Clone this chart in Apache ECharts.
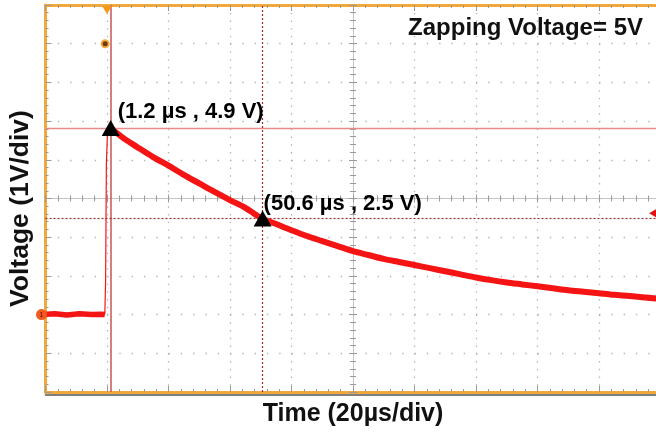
<!DOCTYPE html>
<html>
<head>
<meta charset="utf-8">
<script src="https://cdn.jsdelivr.net/npm/echarts@6/dist/echarts.min.js"></script>
<style>
html,body{margin:0;padding:0;background:#fff;}
#chart{width:656px;height:432px;}
</style>
</head>
<body>
<div id="chart"></div>
<script>
// ---- data ----
const baselineTime = [-21, -17, -13, -9, -5, -2, -0.7];
const baselineVolt = [0.0, 0.02, -0.01, 0.02, 0.0, 0.01, 0.0];

const riseTime = [-0.7, -0.45, -0.2, 0.2, 1.2];
const riseVolt = [0.0, 0.9, 3.9, 4.8, 4.82];

const decayTime = [1.2, 5, 10, 15, 20, 25, 30, 35, 40, 45, 50, 55, 60, 65, 70, 75, 80, 85, 90, 95, 100,
  105, 110, 115, 120, 125, 130, 135, 140, 145, 150, 155, 160, 165, 170, 175, 180];
const decayVolt = [4.82, 4.58, 4.32, 4.07, 3.85, 3.61, 3.39, 3.17, 2.96, 2.76, 2.50, 2.34, 2.18, 2.03, 1.90, 1.77,
  1.64, 1.54, 1.44, 1.36, 1.28, 1.20, 1.12, 1.04, 0.96, 0.89, 0.83, 0.78, 0.73, 0.68, 0.63, 0.59, 0.55,
  0.51, 0.48, 0.44, 0.41];

const cursorTime = [1.2, 50.6];
const cursorVolt = [4.82, 2.48];
const cursorLabels = ['(1.2 µs , 4.9 V)', '(50.6 µs , 2.5 V)'];

const triggerTime = 0;      // trigger position (top marker)
const triggerLevel = [-0.6, 7];
const channelGround = [-21.3, 0];
const refArrow = [176.3, 2.62];

const xMin = -20, xMax = 180, xStep = 20;
const yMin = -2, yMax = 8, yStep = 1;

const titleText = 'Zapping Voltage= 5V';
const xName = 'Time (20µs/div)';
const yName = 'Voltage (1V/div)';

// ---- styles ----
const ORANGE = '#f2a93b';
const GRIDDOT = '#b4b4b4';
const TICK = '#9a9a9a';
const TRACE = '#f41414';
const FONT = '"Liberation Sans", Arial, sans-serif';

const zip = (a, b) => a.map((v, i) => [v, b[i]]);

const chart = echarts.init(document.getElementById('chart'), null, {renderer: 'canvas'});

function line(color, width) {
  return {show: true, onZero: false, lineStyle: {color: color, width: width}};
}
function baseX(extra) {
  return Object.assign({
    type: 'value', min: xMin, max: xMax, interval: xStep,
    axisLabel: {show: false},
    splitLine: {show: false},
    axisLine: {show: false, onZero: false},
    axisTick: {show: false},
    minorTick: {show: false}
  }, extra);
}
function baseY(extra) {
  return Object.assign({
    type: 'value', min: yMin, max: yMax, interval: yStep,
    axisLabel: {show: false},
    splitLine: {show: false},
    axisLine: {show: false, onZero: false},
    axisTick: {show: false},
    minorTick: {show: false}
  }, extra);
}

const option = {
  animation: false,
  backgroundColor: '#fff',
  title: {
    text: titleText, right: 8, top: 11,
    textStyle: {fontFamily: FONT, fontWeight: 'bold', fontSize: 24, color: '#111'}
  },
  grid: {left: 45.5, top: 5, right: -4.5, bottom: 40, containLabel: false, outerBoundsMode: 'none'},
  xAxis: [
    baseX({
      position: 'bottom',
      name: xName, nameLocation: 'middle', nameGap: 10,
      nameTextStyle: {fontFamily: FONT, fontWeight: 'bold', fontSize: 25, color: '#111', verticalAlign: 'top'},
      axisLine: line(ORANGE, 3),
      axisTick: {show: true, inside: true, length: 6, lineStyle: {color: TICK}},
      minorTick: {show: true, splitNumber: 5, length: 3, lineStyle: {color: TICK}},
      splitLine: {show: true, lineStyle: {color: GRIDDOT, width: 1.3, type: [1.4, 6.34]}}
    }),
    baseX({
      position: 'top',
      axisLine: line(ORANGE, 3),
      axisTick: {show: true, inside: true, length: 6, lineStyle: {color: TICK}},
      minorTick: {show: true, splitNumber: 5, length: 3, lineStyle: {color: TICK}}
    }),
    baseX({
      position: 'bottom', offset: -193.5,
      axisLine: line('#c4c4c4', 1),
      axisTick: {show: true, inside: true, length: 4, lineStyle: {color: TICK}},
      minorTick: {show: true, splitNumber: 5, length: 3, lineStyle: {color: TICK}}
    }),
    baseX({
      position: 'bottom', offset: -193.5,
      axisTick: {show: true, inside: false, length: 4, lineStyle: {color: TICK}},
      minorTick: {show: true, splitNumber: 5, length: 3, lineStyle: {color: TICK}}
    }),
    baseX({
      position: 'bottom', offset: 2.5,
      axisLine: line('#555', 1.5)
    })
  ],
  yAxis: [
    baseY({
      position: 'left',
      name: yName, nameLocation: 'middle', nameGap: 11, nameRotate: 90,
      nameTextStyle: {fontFamily: FONT, fontWeight: 'bold', fontSize: 26.5, color: '#111',
        verticalAlign: 'bottom', padding: [0, 20, 0, 0]},
      axisLine: line(ORANGE, 3),
      axisTick: {show: true, inside: true, length: 6, lineStyle: {color: TICK}},
      minorTick: {show: true, splitNumber: 5, length: 3, lineStyle: {color: TICK}},
      splitLine: {show: true, lineStyle: {color: GRIDDOT, width: 1.3, type: [1.4, 10.9]}}
    }),
    baseY({
      position: 'left', offset: -307.5,
      axisLine: line('#c4c4c4', 1),
      axisTick: {show: true, inside: true, length: 4, lineStyle: {color: TICK}},
      minorTick: {show: true, splitNumber: 5, length: 3, lineStyle: {color: TICK}}
    }),
    baseY({
      position: 'left', offset: -307.5,
      axisTick: {show: true, inside: false, length: 4, lineStyle: {color: TICK}},
      minorTick: {show: true, splitNumber: 5, length: 3, lineStyle: {color: TICK}}
    })
  ],
  series: [
    {
      type: 'line', name: 'cursors', data: [], silent: true,
      markLine: {
        symbol: 'none', silent: true, label: {show: false},
        data: [
          {xAxis: cursorTime[0], lineStyle: {color: '#c86060', width: 1.6, type: 'solid'}},
          {yAxis: cursorVolt[0], lineStyle: {color: '#e88a8a', width: 1.4, type: 'solid'}},
          {xAxis: cursorTime[1], lineStyle: {color: '#9c2a2a', width: 1.2, type: [2, 2]}},
          {yAxis: cursorVolt[1], lineStyle: {color: '#9c2a2a', width: 1.2, type: [2, 2]}}
        ]
      }
    },
    {
      type: 'line', name: 'baseline', data: zip(baselineTime, baselineVolt),
      showSymbol: false, clip: false,
      lineStyle: {color: TRACE, width: 5.5}
    },
    {
      type: 'line', name: 'rise', data: zip(riseTime, riseVolt),
      showSymbol: false,
      lineStyle: {color: TRACE, width: 1.2}
    },
    {
      type: 'line', name: 'decay', data: zip(decayTime, decayVolt),
      showSymbol: false, smooth: 0.3, clip: false,
      lineStyle: {color: TRACE, width: 6}
    },
    {
      type: 'scatter', name: 'cursorMarks',
      data: zip(cursorTime, cursorVolt).map((p, i) => ({
        value: p,
        label: {offset: i === 0 ? [6, -16] : [0, -15]}
      })),
      symbol: 'triangle', symbolSize: [18, 16],
      itemStyle: {color: '#000', opacity: 1},
      z: 10,
      label: {
        show: true, position: 'right', distance: -8,
        formatter: (p) => cursorLabels[p.dataIndex],
        fontFamily: FONT, fontWeight: 'bold', fontSize: 22, color: '#000', opacity: 1
      }
    },
    {
      type: 'scatter', name: 'trigger', xAxisIndex: 1,
      data: [[triggerTime, yMax]],
      symbol: 'triangle', symbolRotate: 180, symbolSize: [10, 8], symbolOffset: [0, 5],
      itemStyle: {color: '#f39a1a', opacity: 1}, clip: false, z: 12
    },
    {
      type: 'scatter', name: 'trigLevel',
      data: [triggerLevel],
      symbol: 'circle', symbolSize: 7,
      itemStyle: {color: '#6b3a10', borderColor: ORANGE, borderWidth: 2, opacity: 1}, z: 12
    },
    {
      type: 'scatter', name: 'ground',
      data: [channelGround],
      symbol: 'circle', symbolSize: 11, clip: false,
      itemStyle: {color: '#f05a1e', opacity: 1}, z: 12,
      label: {show: true, position: 'inside', formatter: '1', fontSize: 7, color: '#600', fontFamily: FONT}
    },
    {
      type: 'scatter', name: 'refArrow',
      data: [refArrow],
      symbol: 'arrow', symbolRotate: 90, symbolSize: [8, 9],
      itemStyle: {color: '#e01010', opacity: 1}, clip: false, z: 12
    }
  ]
};
chart.setOption(option);
</script>
</body>
</html>
